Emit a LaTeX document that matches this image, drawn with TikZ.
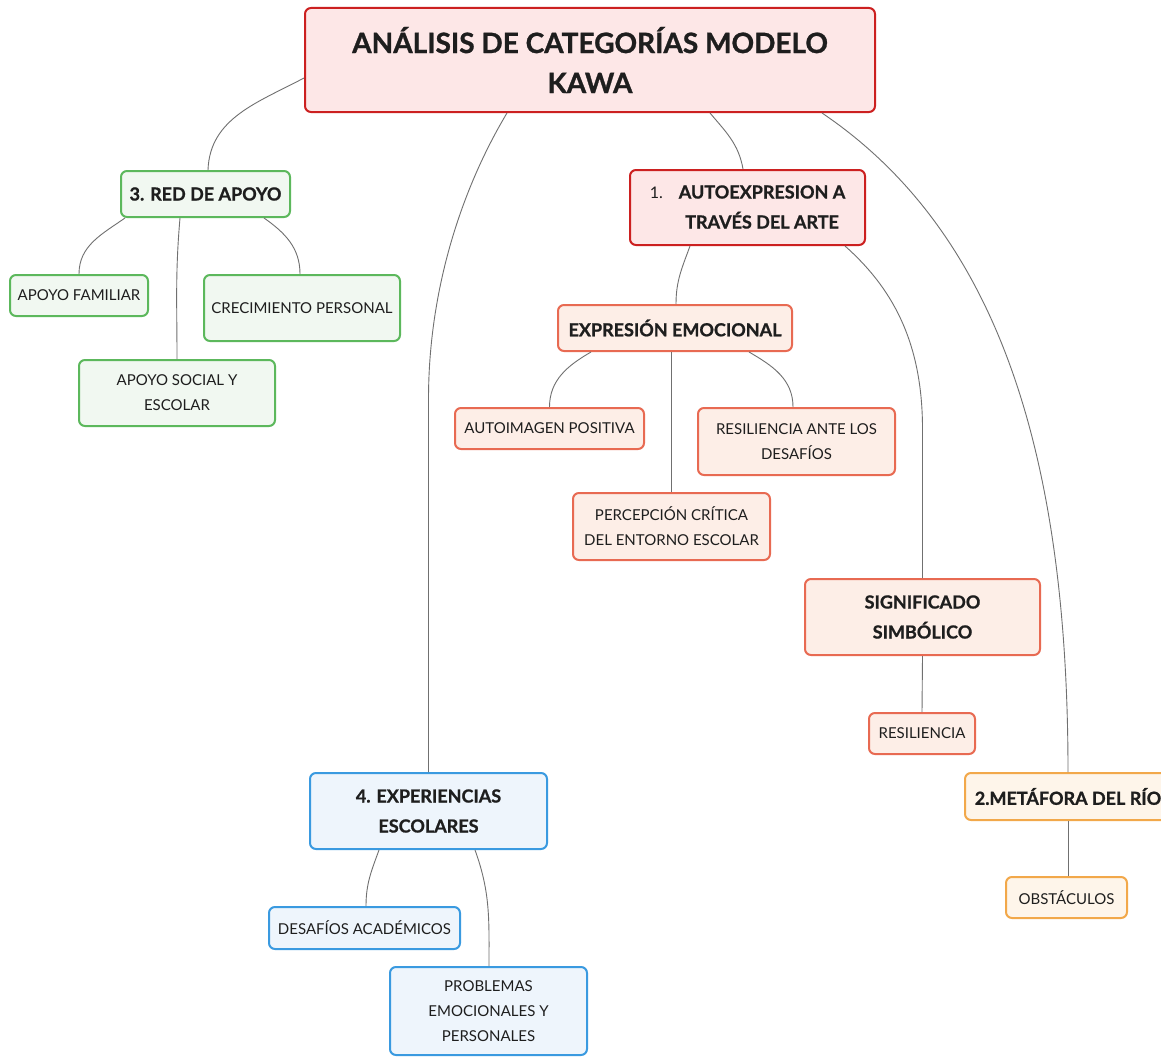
\documentclass[tikz,border=0pt]{standalone}
\usepackage{fontspec}
\setmainfont{Lato}[BoldFeatures={FakeBold=1}]
\usetikzlibrary{calc}
\definecolor{redB}{HTML}{CC2020}
\definecolor{redF}{HTML}{FDE7E7}
\definecolor{salB}{HTML}{E86A52}
\definecolor{salF}{HTML}{FDEEE7}
\definecolor{greB}{HTML}{5CB85C}
\definecolor{greF}{HTML}{F1F8F1}
\definecolor{bluB}{HTML}{3A9AE0}
\definecolor{bluF}{HTML}{EEF5FC}
\definecolor{oraB}{HTML}{F2A84A}
\definecolor{oraF}{HTML}{FEF5EA}
\definecolor{lnk}{HTML}{707070}
\definecolor{txt}{HTML}{1E1E1E}
\tikzset{
  box/.style={rounded corners=6pt, line width=2pt, align=center, inner sep=0pt, text=txt},
  redbox/.style={box, draw=redB, fill=redF},
  salbox/.style={box, draw=salB, fill=salF},
  grebox/.style={box, draw=greB, fill=greF},
  blubox/.style={box, draw=bluB, fill=bluF},
  orabox/.style={box, draw=oraB, fill=oraF},
  big/.style={font=\fontsize{28}{40}\selectfont\bfseries},
  head/.style={font=\fontsize{18}{30}\selectfont\bfseries},
  leaf/.style={font=\fontsize{15}{25}\selectfont},
  link/.style={draw=lnk, line width=0.9pt},
}
\begin{document}
\begin{tikzpicture}[x=1pt,y=-1pt]
\useasboundingbox (0,0) rectangle (1161,1057);
\fill[white] (0,0) rectangle (1161,1057);
\clip (0,0) rectangle (1161,1057);

% nodes
\node[redbox, big, minimum width=570, minimum height=104] (title) at (590,60) {ANÁLISIS DE CATEGORÍAS MODELO\\KAWA};

\node[grebox, head, minimum width=169, minimum height=46] (red) at (205.5,194) {3. RED DE APOYO};
\node[grebox, leaf, minimum width=138, minimum height=41] (af) at (79,295.5) {APOYO FAMILIAR};
\node[grebox, leaf, minimum width=196, minimum height=66] (cp) at (302,308) {CRECIMIENTO PERSONAL};
\node[grebox, leaf, minimum width=196, minimum height=66] (as) at (177,393) {APOYO SOCIAL Y\\ESCOLAR};

\node[redbox, minimum width=235, minimum height=75] (auto) at (747.5,207.5) {\fontsize{18}{30}\selectfont\begin{tabular}{@{}l@{\hspace{16pt}}c@{}}{\fontsize{16}{30}\selectfont\mdseries 1.} & \bfseries AUTOEXPRESION A\\ & \bfseries TRAVÉS DEL ARTE\end{tabular}};

\node[salbox, head, minimum width=234, minimum height=46] (ee) at (675,328) {EXPRESIÓN EMOCIONAL};
\node[salbox, leaf, minimum width=189, minimum height=41] (ap) at (549.5,428.5) {AUTOIMAGEN POSITIVA};
\node[salbox, leaf, minimum width=197, minimum height=67] (ra) at (796.5,441.5) {RESILIENCIA ANTE LOS\\DESAFÍOS};
\node[salbox, leaf, minimum width=197, minimum height=67] (pc) at (671.5,526.5) {PERCEPCIÓN CRÍTICA\\DEL ENTORNO ESCOLAR};

\node[salbox, head, minimum width=235, minimum height=76] (ss) at (922.5,617) {SIGNIFICADO\\SIMBÓLICO};
\node[salbox, leaf, minimum width=106, minimum height=41] (res) at (922,733.5) {RESILIENCIA};

\node[orabox, head, minimum width=206, minimum height=47] (met) at (1068,796.5) {2.METÁFORA DEL RÍO};
\node[orabox, leaf, minimum width=121, minimum height=41] (obs) at (1066.5,897.5) {OBSTÁCULOS};

\node[blubox, head, minimum width=237, minimum height=76] (exp) at (428.5,811) {4. EXPERIENCIAS\\ESCOLARES};
\node[blubox, leaf, minimum width=191, minimum height=42] (da) at (364.5,928) {DESAFÍOS ACADÉMICOS};
\node[blubox, leaf, minimum width=197, minimum height=88] (pr) at (488.5,1011) {PROBLEMAS\\EMOCIONALES Y\\PERSONALES};

% connectors
\draw[link] ([yshift=-18pt]title.west) to[out=208,in=88] ([xshift=2.5pt]red.north);
\draw[link] ([xshift=-83pt]title.south) .. controls +(-45,75) and +(0,-110) .. ($(exp.north)+(0,-373)$) -- (exp.north);
\draw[link] ([xshift=120pt]title.south) to[out=-50,in=100] ([xshift=-4.5pt]auto.north);
\draw[link] ([xshift=232pt]title.south) .. controls +(170,115) and +(0,-330) .. (met.north);

\draw[link] ([xshift=5pt]red.south west) to[out=215,in=90] (af.north);
\draw[link] ([xshift=60pt]red.south west) to[out=-95,in=90] (as.north);
\draw[link] ([xshift=144pt]red.south west) to[out=-35,in=90] ([xshift=-2pt]cp.north);

\draw[link] ([xshift=61pt]auto.south west) to[out=-110,in=90] ([xshift=1pt]ee.north);
\draw[link] ([xshift=216pt]auto.south west) .. controls +(45,40) and +(0,-90) .. ($(ss.north)+(0,-149)$) -- (ss.north);

\draw[link] ([xshift=34pt]ee.south west) to[out=210,in=90] (ap.north);
\draw[link] ([xshift=-3.5pt]ee.south) -- (pc.north);
\draw[link] ([xshift=192pt]ee.south west) to[out=-30,in=90] ([xshift=-3.5pt]ra.north);

\draw[link] (ss.south) -- (res.north);
\draw[link] (met.south) -- ([xshift=1.5pt]obs.north);

\draw[link] ([xshift=70pt]exp.south west) to[out=-110,in=90] ([xshift=1.5pt]da.north);
\draw[link] ([xshift=166pt]exp.south west) to[out=-70,in=90] ([xshift=0.5pt]pr.north);
\end{tikzpicture}
\end{document}
